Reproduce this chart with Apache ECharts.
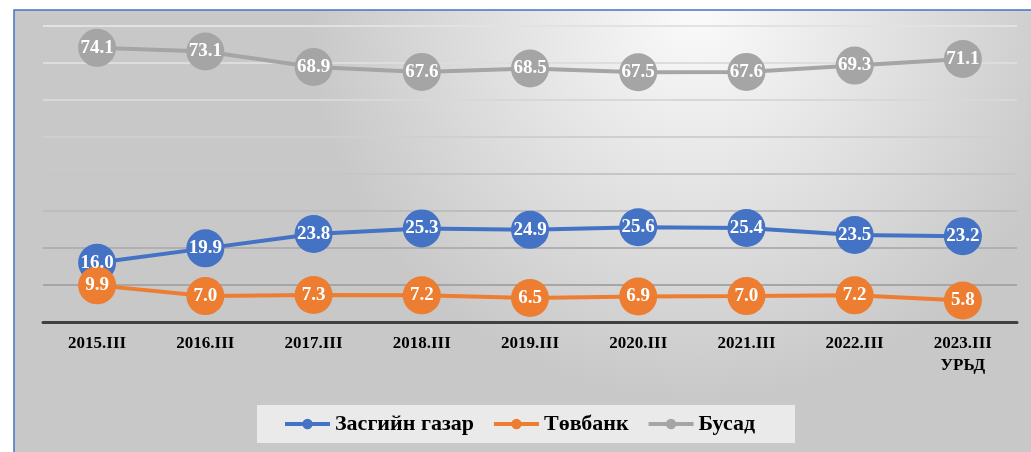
<!DOCTYPE html>
<html>
<head>
<meta charset="utf-8">
<script src="https://cdn.jsdelivr.net/npm/echarts@6/dist/echarts.min.js"></script>
<style>
	html, body { margin: 0; padding: 0; background: #fff; }
	#chart { width: 1031px; height: 452px; }
</style>
</head>
<body>
<div id="chart"></div>
<script>
	// 年份类目
	var categories = ['2015.III', '2016.III', '2017.III', '2018.III', '2019.III', '2020.III', '2021.III', '2022.III', '2023.III\nУРЬД'];
	var seriesNames = ['Засгийн газар', 'Төвбанк', 'Бусад'];
	var govValues = [16.0, 19.9, 23.8, 25.3, 24.9, 25.6, 25.4, 23.5, 23.2];
	var bankValues = [9.9, 7.0, 7.3, 7.2, 6.5, 6.9, 7.0, 7.2, 5.8];
	var otherValues = [74.1, 73.1, 68.9, 67.6, 68.5, 67.5, 67.6, 69.3, 71.1];
	var colors = ['#4472c4', '#ed7d31', '#a5a5a5'];

	var serif = '"Liberation Serif", "Times New Roman", serif';

	function makeSeries(name, data, color) {
		return {
			name: name,
			type: 'line',
			data: data,
			symbol: 'circle',
			symbolSize: 38,
			lineStyle: { width: 4, color: color },
			itemStyle: { color: color },
			label: {
				show: true,
				position: 'inside',
				formatter: function(p) { return p.value.toFixed(1); },
				color: '#fff',
				fontFamily: serif,
				fontWeight: 'bold',
				fontSize: 19
			},
			emphasis: { disabled: true },
			animation: false
		};
	}

	var option = {
		animation: false,
		graphic: [{
			type: 'rect',
			silent: true,
			z: -10,
			shape: { x: 14, y: 10, width: 1100, height: 500 },
			style: {
				fill: {
					type: 'radial', x: 0.62, y: 0.0, r: 0.78,
					colorStops: [
						{ offset: 0, color: '#fbfbfb' },
						{ offset: 1, color: '#c8c8c8' }
					]
				},
				stroke: '#4472c4',
				lineWidth: 1.5
			}
		}],
		grid: { left: 43, right: 14, top: 26, bottom: 130 },
		xAxis: {
			type: 'category',
			data: categories,
			boundaryGap: true,
			axisLine: { lineStyle: { color: '#404040', width: 3 } },
			axisTick: { show: false },
			axisLabel: {
				color: '#000',
				fontFamily: serif,
				fontWeight: 'bold',
				fontSize: 17,
				margin: 11,
				lineHeight: 22,
				interval: 0
			}
		},
		yAxis: {
			type: 'value',
			min: 0,
			max: 80,
			interval: 10,
			axisLine: { show: false },
			axisLabel: { show: false },
			axisTick: { show: false },
			splitLine: {
				lineStyle: {
					width: 2,
					color: ['#404040', '#a6a6a6', '#b0b0b0', '#bdbdbd', '#c6c6c6', '#cfcfcf', '#d8d8d8', '#dddddd', '#e2e2e2']
				}
			}
		},
		legend: {
			data: seriesNames,
			bottom: 9,
			left: 257,
			itemWidth: 45,
			itemHeight: 13,
			itemGap: 18,
			padding: [8, 40, 8, 26],
			backgroundColor: 'rgba(240,240,240,0.85)',
			lineStyle: { width: 4 },
			textStyle: {
				color: '#000',
				fontFamily: serif,
				fontWeight: 'bold',
				fontSize: 22
			}
		},
		series: [
			makeSeries(seriesNames[0], govValues, colors[0]),
			makeSeries(seriesNames[1], bankValues, colors[1]),
			makeSeries(seriesNames[2], otherValues, colors[2])
		]
	};

	echarts.init(document.getElementById('chart')).setOption(option);
</script>
</body>
</html>
